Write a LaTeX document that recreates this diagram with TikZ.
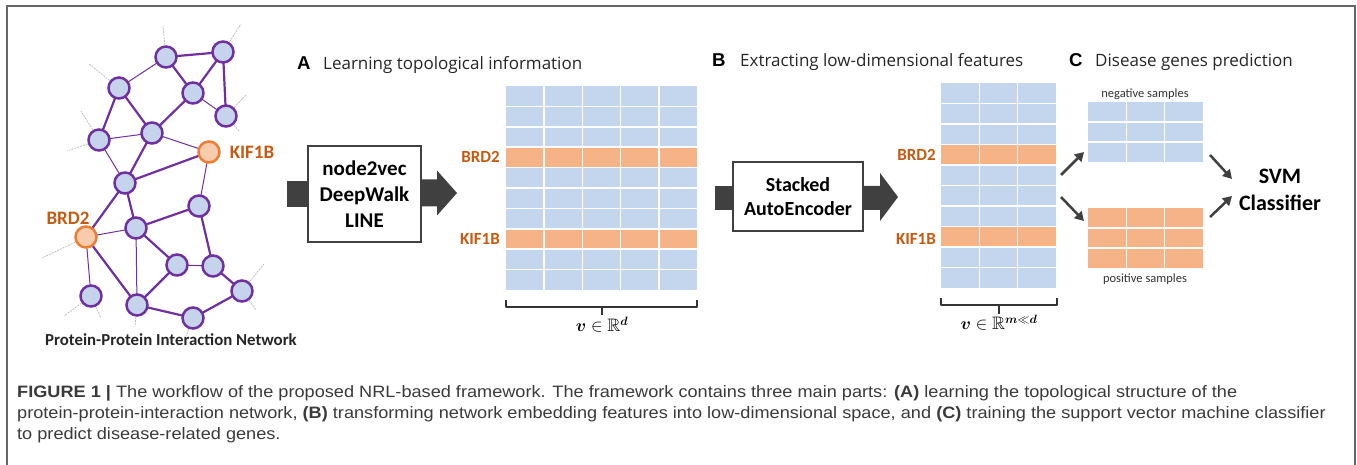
\documentclass[tikz,border=0pt]{standalone}
\usepackage{amsmath,amssymb}
\usepackage{fontspec}
\setmainfont{Carlito}
\newfontfamily\titlefont{Open Sans}
\newfontfamily\arialfont{Liberation Sans}
\newfontfamily\capfont[FakeStretch=1.10]{Liberation Sans}
\usetikzlibrary{arrows.meta}
\definecolor{ppurple}{HTML}{7030A0}
\definecolor{nblue}{HTML}{C5D4EC}
\definecolor{mblue}{HTML}{C3D6EE}
\definecolor{morange}{HTML}{F5B387}
\definecolor{norange}{HTML}{F8CBAD}
\definecolor{oline}{HTML}{ED7D31}
\definecolor{olabel}{HTML}{C55A11}
\definecolor{dgray}{HTML}{404040}
\definecolor{frameg}{HTML}{666666}
\definecolor{capg}{HTML}{3A3A3A}
\pgfdeclarelayer{bg}
\pgfsetlayers{bg,main}
\tikzset{
  pnode/.style={circle, draw=ppurple, fill=nblue, line width=2.5pt, minimum size=21pt, inner sep=0pt},
  onode/.style={pnode, draw=oline, fill=norange},
  tedge/.style={ppurple, line width=2.2pt},
  fedge/.style={ppurple, line width=1pt},
  stub/.style={gray!55, line width=0.7pt, dash pattern=on 2pt off 1pt},
  glab/.style={font=\fontsize{19}{22}\selectfont\bfseries, text=olabel, inner sep=0pt},
  mlab/.style={font=\fontsize{17}{20}\selectfont\bfseries, text=olabel, inner sep=0pt, anchor=east},
  algbox/.style={draw=dgray, line width=2.5pt, fill=white, align=center, inner sep=0pt},
  blockfill/.style={fill=dgray, draw=none},
  mat/.style={draw=none, inner sep=0pt, anchor=north west},
  grid/.style={white, line width=1.5pt},
  brace/.style={draw=black!80, line width=1.8pt, line join=round},
  ptitle/.style={font=\titlefont\fontsize{17}{20}\selectfont, text=black!85, anchor=base west, inner sep=0pt},
  pletter/.style={font=\arialfont\bfseries\fontsize{18.6}{20}\selectfont, text=black, anchor=base west, inner sep=0pt},
  carrow/.style={draw=dgray, line width=2.5pt, -{Triangle[length=9pt,width=10pt]}},
  small/.style={font=\fontsize{12.5}{14}\selectfont, text=black!80, inner sep=0pt},
  capline/.style={font=\capfont\fontsize{16.5}{18}\selectfont, text=capg, anchor=base west, inner sep=0pt},
  mathlab/.style={font=\fontsize{18}{20}\selectfont, inner sep=0pt},
}
\begin{document}
\begin{tikzpicture}[x=1pt,y=-1pt]
\useasboundingbox (0,0) rectangle (1357,465);
% frame
\draw[frameg, line width=1.5pt] (7,466) -- (7,6) -- (1355,6) -- (1355,466);

% ---------------- network ----------------
\node[pnode] (n1) at (166,57) {};
\node[pnode] (n2) at (223,52) {};
\node[pnode] (n3) at (119,88) {};
\node[pnode] (n4) at (193,93) {};
\node[pnode] (n5) at (226,116) {};
\node[pnode] (n6) at (99,140) {};
\node[pnode] (n7) at (152,133) {};
\node[onode] (n8) at (209,152) {};
\node[pnode] (n9) at (125,183) {};
\node[pnode] (n10) at (199,206) {};
\node[onode] (n11) at (86,237) {};
\node[pnode] (n12) at (136,228) {};
\node[pnode] (n13) at (177,265) {};
\node[pnode] (n14) at (213,266) {};
\node[pnode] (n15) at (242,291) {};
\node[pnode] (n16) at (91,296) {};
\node[pnode] (n17) at (137,305) {};
\node[pnode] (n18) at (193,318) {};

\coordinate (s1) at (163,26);
\coordinate (s2) at (241,24);
\coordinate (s3) at (89,64);
\coordinate (s5a) at (246,95);
\coordinate (s5b) at (240,132);
\coordinate (s6a) at (81,111);
\coordinate (s6b) at (67,151);
\coordinate (s11) at (42,258);
\coordinate (s16a) at (64,316);
\coordinate (s16b) at (101,318);
\coordinate (s17) at (135,326);
\coordinate (s18) at (186,336);
\coordinate (s15a) at (264,264);
\coordinate (s15b) at (256,310);

\begin{pgfonlayer}{bg}
\foreach \a/\b in {n1/s1,n2/s2,n3/s3,n5/s5a,n5/s5b,n6/s6a,n6/s6b,n11/s11,n16/s16a,n16/s16b,n17/s17,n18/s18,n15/s15a,n15/s15b}
  \draw[stub] (\a.center) -- (\b);
\foreach \a/\b in {n1/n2,n1/n4,n2/n4,n2/n5,n3/n6,n3/n7,n4/n7,n7/n9,n9/n8,n9/n11,n9/n12,n12/n10,n12/n13,n11/n17,n13/n17,n10/n14,n14/n15,n17/n18,n18/n15}
  \draw[tedge] (\a.center) -- (\b.center);
\foreach \a/\b in {n1/n3,n4/n5,n6/n7,n6/n9,n7/n8,n8/n10,n11/n12,n12/n17,n11/n16,n13/n14}
  \draw[fedge] (\a.center) -- (\b.center);
\end{pgfonlayer}

\node[glab] (lk) at (252,152) {KIF1B};
\node[glab] (lb) at (68,218) {BRD2};
\node[font=\fontsize{16.8}{18}\selectfont\bfseries, text=black!85, inner sep=0pt] (netcap) at (171,340) {Protein-Protein Interaction Network};

% ---------------- A ----------------
\node[pletter] (tA) at (297,70) {A};
\node[ptitle] (ttA) at (323,70) {Learning topological information};

\fill[blockfill] (287,181) rectangle (308,207);
\node[algbox, minimum width=113pt, minimum height=96pt, font=\fontsize{21}{26}\selectfont\bfseries] (boxA) at (364.5,194) {node2vec\\DeepWalk\\LINE};
\fill[blockfill] (421,179.5) -- (437,179.5) -- (437,170.5) -- (457,193) -- (437,215.5) -- (437,206.5) -- (421,206.5) -- cycle;

% matrix A
\node[mat, fill=mblue, minimum width=191pt, minimum height=204pt] (matA) at (506,86) {};
\fill[morange] (506,86+3*20.4) rectangle (697,86+4*20.4);
\fill[morange] (506,86+7*20.4) rectangle (697,86+8*20.4);
\foreach \i in {1,...,9} \draw[grid] (506,86+\i*20.4) -- (697,86+\i*20.4);
\foreach \j in {1,...,4} \draw[grid] (506+\j*38.2,86) -- (506+\j*38.2,290);
\node[mlab] (mAb) at (500,157) {BRD2};
\node[mlab] (mAk) at (500,239) {KIF1B};
\draw[brace] (506,300) -- (506,307) -- (697,307) -- (697,300);
\draw[brace] (602,307) -- (602,315);
\node[mathlab] (vA) at (602,325) {$\boldsymbol{v}\in\mathbb{R}^{\boldsymbol{d}}$};

% ---------------- B ----------------
\node[pletter] (tB) at (712,66.5) {B};
\node[ptitle] (ttB) at (740,66.5) {Extracting low-dimensional features};

\fill[blockfill] (715,186) rectangle (733,210);
\node[algbox, minimum width=130pt, minimum height=69pt, font=\fontsize{20}{23.5}\selectfont\bfseries] (boxB) at (798,196.5) {Stacked\\AutoEncoder};
\fill[blockfill] (863,186) -- (880,186) -- (880,173) -- (898,197) -- (880,221) -- (880,210) -- (863,210) -- cycle;

% matrix B
\node[mat, fill=mblue, minimum width=115pt, minimum height=205pt] (matB) at (941,83) {};
\fill[morange] (941,83+3*20.5) rectangle (1056,83+4*20.5);
\fill[morange] (941,83+7*20.5) rectangle (1056,83+8*20.5);
\foreach \i in {1,...,9} \draw[grid] (941,83+\i*20.5) -- (1056,83+\i*20.5);
\foreach \j in {1,2} \draw[grid] (941+\j*38.33,83) -- (941+\j*38.33,288);
\node[mlab] (mBb) at (936,155) {BRD2};
\node[mlab] (mBk) at (936,239) {KIF1B};
\draw[brace] (941,298) -- (941,305) -- (1057,305) -- (1057,298);
\draw[brace] (999,305) -- (999,314);
\node[mathlab] (vB) at (999,323) {$\boldsymbol{v}\in\mathbb{R}^{\boldsymbol{m}\ll\boldsymbol{d}}$};

% ---------------- C ----------------
\node[pletter] (tC) at (1069,67) {C};
\node[ptitle] (ttC) at (1095,67) {Disease genes prediction};

\node[small] (negl) at (1145,94) {negative samples};
\node[mat, fill=mblue, minimum width=115pt, minimum height=60pt] (neg) at (1088,102) {};
\foreach \i in {1,2} \draw[grid] (1088,102+\i*20) -- (1203,102+\i*20);
\foreach \j in {1,2} \draw[grid] (1088+\j*38.33,102) -- (1088+\j*38.33,162);

\node[mat, fill=morange, minimum width=115pt, minimum height=60pt] (pos) at (1088,208) {};
\foreach \i in {1,2} \draw[grid] (1088,208+\i*20) -- (1203,208+\i*20);
\foreach \j in {1,2} \draw[grid] (1088+\j*38.33,208) -- (1088+\j*38.33,268);
\node[small] (posl) at (1145,279) {positive samples};

\node[font=\fontsize{22}{27}\selectfont\bfseries, align=center, inner sep=0pt] (svm) at (1280,190) {SVM\\Classifier};

\coordinate (a1s) at (1061,175); \coordinate (a1e) at (1084,152);
\coordinate (a2s) at (1061,197); \coordinate (a2e) at (1084,221);
\coordinate (a3s) at (1210,155); \coordinate (a3e) at (1232,179);
\coordinate (a4s) at (1210,217); \coordinate (a4e) at (1232,196);
\draw[carrow] (a1s) -- (a1e);
\draw[carrow] (a2s) -- (a2e);
\draw[carrow] (a3s) -- (a3e);
\draw[carrow] (a4s) -- (a4e);

% ---------------- caption ----------------
\node[capline] (c1) at (17,397.5) {\textbf{FIGURE 1 |} The workflow of the proposed NRL-based framework. The framework contains three main parts: \textbf{(A)} learning the topological structure of the};
\node[capline] (c2) at (17,418.5) {protein-protein-interaction network, \textbf{(B)} transforming network embedding features into low-dimensional space, and \textbf{(C)} training the support vector machine classifier};
\node[capline] (c3) at (17,439.5) {to predict disease-related genes.};
\end{tikzpicture}
\end{document}
